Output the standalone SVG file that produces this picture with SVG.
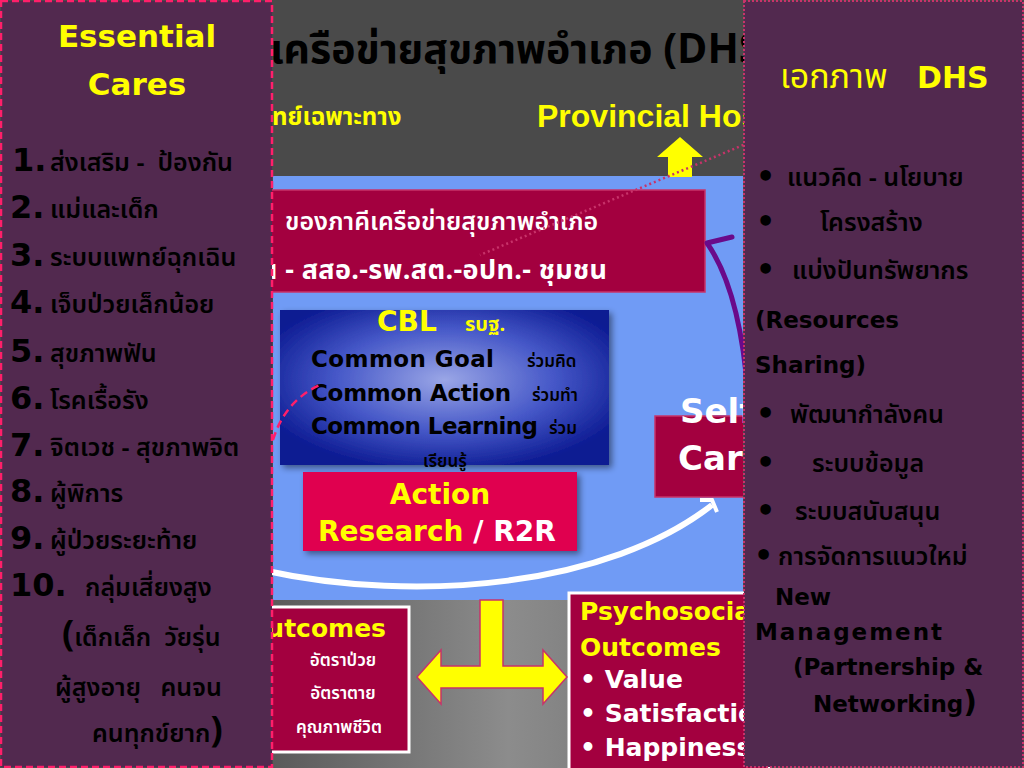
<svg xmlns="http://www.w3.org/2000/svg" width="1024" height="768" viewBox="0 0 1024 768">
  <defs>
    <radialGradient id="cblGrad" cx="0.5" cy="0.45" r="0.6">
      <stop offset="0" stop-color="#9aa6e6"/>
      <stop offset="0.55" stop-color="#4658c8"/>
      <stop offset="1" stop-color="#0c1a92"/>
    </radialGradient>
    <linearGradient id="bottomGrad" x1="0" y1="0" x2="1" y2="0">
      <stop offset="0" stop-color="#5a5a5a"/>
      <stop offset="0.5" stop-color="#8c8c8c"/>
      <stop offset="1" stop-color="#6a6a6a"/>
    </linearGradient>
    <filter id="shadow" x="-10%" y="-10%" width="130%" height="130%">
      <feDropShadow dx="3" dy="3" stdDeviation="3" flood-color="#000" flood-opacity="0.45"/>
    </filter>
    <clipPath id="midClip">
      <rect x="0" y="0" width="743" height="768"/>
    </clipPath>
    <style>
      .th { font-family: 'Noto Sans Thai', 'Noto Sans', 'DejaVu Sans', sans-serif; }
      .en { font-family: 'DejaVu Sans', 'Liberation Sans', sans-serif; font-weight: bold; }
      .cal { font-family: 'Liberation Sans', Arial, sans-serif; font-weight: bold; }
      .panel { fill: #52294f; }
      .crim { fill: #a3003f; stroke: #c8336a; stroke-width: 1.5; }
      .out { fill: #a3003f; stroke: #ffffff; stroke-width: 3; }
      .num { font-family: 'DejaVu Sans', 'Liberation Sans', sans-serif; font-weight: bold; font-size: 32px; fill: #000; }
      .li { font-size: 25px; font-weight: 600; fill: #000; }
      .ri { font-size: 25px; font-weight: 600; fill: #000; }
      .bul { font-family: 'DejaVu Sans', sans-serif; font-size: 30px; font-weight: bold; fill: #000; }
      .ren { font-family: 'DejaVu Sans', 'Liberation Sans', sans-serif; font-weight: bold; font-size: 23px; fill: #000; }
    </style>
  </defs>

  <!-- backgrounds -->
  <rect x="0" y="0" width="1024" height="768" fill="#4a4a4a"/>
  <rect x="273" y="600" width="470" height="168" fill="url(#bottomGrad)"/>
  <rect x="273" y="176" width="470" height="424" fill="#709bf5"/>

  <!-- title texts -->
  <text x="270" y="63" class="th" font-size="41" font-weight="bold" fill="#000">เครือข่ายสุขภาพอำเภอ (DHS)</text>
  <text x="272" y="125" class="th" font-size="24" font-weight="bold" fill="#ffff00">ทย์เฉพาะทาง</text>
  <text x="537" y="127" class="cal" font-size="32" fill="#ffff00">Provincial Hospital</text>

  <g id="partners">
    <rect x="262" y="190" width="443" height="102" class="crim"/>
    <text x="285" y="230" class="th" font-size="25" font-weight="600" fill="#fff">ของภาคีเครือข่ายสุขภาพอำเภอ</text>
    <text x="260" y="279" class="th" font-size="27" font-weight="bold" fill="#fff" textLength="347" xml:space="preserve">น - สสอ.-รพ.สต.-อปท.- ชุมชน</text>
  </g>

  <g id="cbl">
    <rect x="280" y="310" width="329" height="155" fill="url(#cblGrad)" filter="url(#shadow)"/>
    <text x="377" y="331" class="en" font-size="28" fill="#ffff00">CBL</text>
    <text x="465" y="331" class="th" font-size="20" font-weight="bold" fill="#ffff00">รบฐ.</text>
    <text x="311" y="367" class="en" font-size="23" fill="#000" textLength="183">Common Goal</text>
    <text x="527" y="367" class="th" font-size="17" font-weight="600" fill="#000">ร่วมคิด</text>
    <text x="311" y="401" class="en" font-size="23" fill="#000" textLength="200">Common Action</text>
    <text x="532" y="401" class="th" font-size="17" font-weight="600" fill="#000">ร่วมทำ</text>
    <text x="311" y="434" class="en" font-size="23" fill="#000" textLength="227">Common Learning</text>
    <text x="549" y="434" class="th" font-size="17" font-weight="600" fill="#000">ร่วม</text>
    <text x="423" y="467" class="th" font-size="17" font-weight="600" fill="#000">เรียนรู้</text>
  </g>

  <g id="action">
    <rect x="303" y="472" width="274" height="79" fill="#e0004f" filter="url(#shadow)"/>
    <text x="440" y="504" class="en" font-size="28" fill="#ffff00" text-anchor="middle">Action</text>
    <text x="318" y="541" class="en" font-size="28" fill="#ffff00">Research <tspan fill="#fff">/ R2R</tspan></text>
  </g>

  <g id="selfcare" clip-path="url(#midClip)">
    <rect x="655" y="416" width="100" height="81" class="crim"/>
    <text x="680" y="423" class="en" font-size="34" fill="#fff">Self</text>
    <text x="678" y="470" class="en" font-size="34" fill="#fff">Care</text>
  </g>

  <g id="outcomes">
    <rect x="262" y="607" width="147" height="145" class="out"/>
    <text x="386" y="637" class="en" font-size="25" fill="#ffff00" text-anchor="end">Outcomes</text>
    <text x="343" y="666" class="th" font-size="17" font-weight="600" fill="#fff" text-anchor="middle">อัตราป่วย</text>
    <text x="343" y="699" class="th" font-size="17" font-weight="600" fill="#fff" text-anchor="middle">อัตราตาย</text>
    <text x="339" y="733" class="th" font-size="17" font-weight="600" fill="#fff" text-anchor="middle">คุณภาพชีวิต</text>
  </g>

  <g id="psychosocial">
    <rect x="569" y="593" width="200" height="180" class="out"/>
    <text x="580" y="620" class="en" font-size="25" fill="#ffff00">Psychosocial</text>
    <text x="580" y="656" class="en" font-size="25" fill="#ffff00">Outcomes</text>
    <text x="580" y="688" class="en" font-size="25" fill="#fff">• Value</text>
    <text x="580" y="722" class="en" font-size="25" fill="#fff">• Satisfaction</text>
    <text x="580" y="756" class="en" font-size="25" fill="#fff">• Happiness</text>
  </g>

  <g id="connectors">
    <polygon points="657,157 680,137 703,157 692,157 692,177 668,177 668,157" fill="#ffff00"/>
    <line x1="748" y1="143" x2="480" y2="255" stroke="#c8336a" stroke-width="2.5" stroke-dasharray="2 3"/>
    <path d="M 273 440 Q 285 400 322 384" fill="none" stroke="#ff1f6a" stroke-width="2.5" stroke-dasharray="8 5"/>
    <path d="M 262 570 C 420 605, 610 585, 712 505" fill="none" stroke="#ffffff" stroke-width="6"/>
    <path d="M 700 500 L 712 500 L 717 512" fill="none" stroke="#ffffff" stroke-width="4"/>
    <path d="M 748 395 Q 740 290 707 243" fill="none" stroke="#6a0a8a" stroke-width="5"/>
    <path d="M 707 243 L 732 237" fill="none" stroke="#6a0a8a" stroke-width="5" stroke-linecap="round"/>
    <polygon points="417,677 441,650 441,666 480,666 480,600 503,600 503,666 543,666 543,650 567,677 543,704 543,688 441,688 441,704" fill="#ffff00" stroke="#c8336a" stroke-width="1.5"/>
  </g>

  <g id="essential-cares">
    <rect x="1" y="1" width="271" height="766" class="panel" stroke="#ff1f6a" stroke-width="2.5" stroke-dasharray="7 4"/>
    <text x="137" y="47" class="en" font-size="31" fill="#ffff00" text-anchor="middle">Essential</text>
    <text x="137" y="95" class="en" font-size="31" fill="#ffff00" text-anchor="middle">Cares</text>
    <text x="12" y="171" class="num">1.</text><text x="50" y="171" class="th li" xml:space="preserve">ส่งเสริม -  ป้องกัน</text>
    <text x="10" y="218" class="num">2.</text><text x="50" y="218" class="th li">แม่และเด็ก</text>
    <text x="10" y="266" class="num">3.</text><text x="50" y="266" class="th li">ระบบแพทย์ฉุกเฉิน</text>
    <text x="10" y="313" class="num">4.</text><text x="50" y="313" class="th li">เจ็บป่วยเล็กน้อย</text>
    <text x="10" y="362" class="num">5.</text><text x="50" y="362" class="th li">สุขภาพฟัน</text>
    <text x="10" y="409" class="num">6.</text><text x="50" y="409" class="th li">โรคเรื้อรัง</text>
    <text x="10" y="456" class="num">7.</text><text x="50" y="456" class="th li">จิตเวช - สุขภาพจิต</text>
    <text x="10" y="502" class="num">8.</text><text x="50" y="502" class="th li">ผู้พิการ</text>
    <text x="10" y="549" class="num">9.</text><text x="50" y="549" class="th li">ผู้ป่วยระยะท้าย</text>
    <text x="10" y="596" class="num">10.</text><text x="85" y="596" class="th li">กลุ่มเสี่ยงสูง</text>
    <text x="62" y="646" class="th li" xml:space="preserve"><tspan font-size="36" font-weight="bold">(</tspan>เด็กเล็ก  วัยรุ่น</text>
    <text x="55" y="696" class="th li" xml:space="preserve">ผู้สูงอายุ   คนจน</text>
    <text x="92" y="742" class="th li">คนทุกข์ยาก<tspan font-size="36" font-weight="bold">)</tspan></text>
  </g>

  <g id="dhs-unity">
    <rect x="744" y="1" width="279" height="766" class="panel" stroke="#c8336a" stroke-width="2" stroke-dasharray="2 2"/>
    <text x="780" y="88" class="th" font-size="34" fill="#ffff00">เอกภาพ</text>
    <text x="917" y="88" class="en" font-size="30" fill="#ffff00">DHS</text>
    <text x="756" y="187" class="bul">•</text><text x="787" y="186" class="th ri">แนวคิด - นโยบาย</text>
    <text x="756" y="232" class="bul">•</text><text x="820" y="231" class="th ri">โครงสร้าง</text>
    <text x="756" y="280" class="bul">•</text><text x="792" y="279" class="th ri">แบ่งปันทรัพยากร</text>
    <text x="755" y="328" class="ren">(Resources</text>
    <text x="755" y="373" class="ren">Sharing)</text>
    <text x="756" y="424" class="bul">•</text><text x="790" y="423" class="th ri">พัฒนากำลังคน</text>
    <text x="756" y="473" class="bul">•</text><text x="812" y="472" class="th ri">ระบบข้อมูล</text>
    <text x="756" y="521" class="bul">•</text><text x="795" y="520" class="th ri">ระบบสนับสนุน</text>
    <text x="754" y="566" class="bul">•</text><text x="778" y="565" class="th ri">การจัดการแนวใหม่</text>
    <text x="775" y="605" class="ren">New</text>
    <text x="755" y="640" class="ren" textLength="187">Management</text>
    <text x="793" y="675" class="ren">(Partnership &amp;</text>
    <text x="813" y="712" class="ren">Networking<tspan font-size="30">)</tspan></text>
  </g>
</svg>
